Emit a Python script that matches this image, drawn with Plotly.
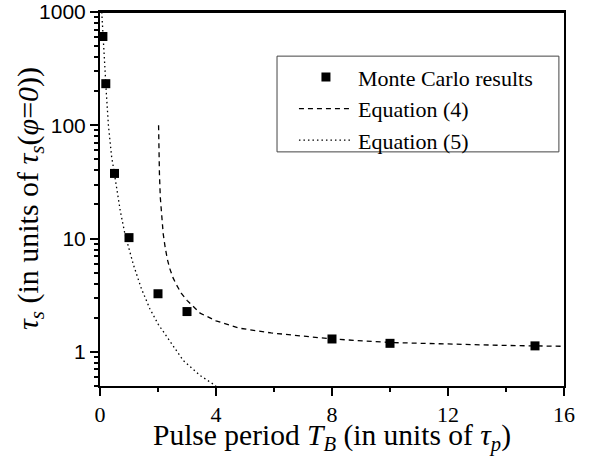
import plotly.graph_objects as go

# Monte Carlo results
mc_x = [0.1, 0.2, 0.5, 1.0, 2.0, 3.0, 8.0, 10.0, 15.0]
mc_y = [608, 233, 37.6, 10.2, 3.26, 2.27, 1.30, 1.19, 1.13]

# Equation (4) curve (dashed)
eq4_x = [2.02, 2.03, 2.05, 2.08, 2.13, 2.18, 2.24, 2.32, 2.41, 2.52, 2.64, 2.8, 3.0,
         3.45, 4.0, 4.8, 5.9, 7.0, 8.0, 10.0, 12.0, 14.0, 16.0]
eq4_y = [100, 60, 37, 23, 15, 11, 8.6, 6.6, 5.4, 4.5, 3.9, 3.3, 2.85,
         2.2, 1.88, 1.62, 1.47, 1.37, 1.30, 1.21, 1.17, 1.14, 1.12]

# Equation (5) curve (dotted)
eq5_x = [0.06, 0.08, 0.11, 0.17, 0.22, 0.29, 0.40, 0.50, 0.60, 0.70, 0.86, 1.0,
         1.15, 1.43, 1.72, 2.01, 2.3, 2.87, 3.45, 3.91, 4.0]
eq5_y = [1000, 800, 600, 280, 190, 100, 53, 37, 25, 17.5, 11, 8.3,
         5.9, 3.6, 2.4, 1.75, 1.36, 0.84, 0.62, 0.52, 0.5]

x_ticks = [0, 4, 8, 12, 16]
y_ticks = [1, 10, 100, 1000]
y_tick_text = ["1", "10", "100", "1000"]
y_minor = [0.5, 0.6, 0.7, 0.8, 0.9] + [m * d for d in (1, 10, 100) for m in range(2, 10)]

x_title = "Pulse period <i>T</i><sub><i>B</i></sub> (in units of <i>τ</i><sub><i>p</i></sub>)"
y_title = "<i>τ</i><sub><i>s</i></sub> (in units of <i>τ</i><sub><i>s</i></sub>(<i>φ</i>=<i>0</i>))"

serif = "Liberation Serif"
sans = "Liberation Sans"

fig = go.Figure()
fig.add_trace(go.Scatter(x=mc_x, y=mc_y, mode="markers", name="Monte Carlo results",
                         marker=dict(symbol="square", size=9, color="black")))
fig.add_trace(go.Scatter(x=eq4_x, y=eq4_y, mode="lines", name="Equation (4)",
                         line=dict(color="black", width=1.3, dash="5px,4px")))
fig.add_trace(go.Scatter(x=eq5_x, y=eq5_y, mode="lines", name="Equation (5)",
                         line=dict(color="black", width=1.3, dash="1.5px,3px")))

tick_common = dict(ticks="outside", ticklen=8, tickwidth=1.5, tickcolor="black",
                   showline=True, linecolor="black", linewidth=2,
                   showgrid=False, zeroline=False, automargin=False)

fig.update_layout(
    width=603, height=468,
    margin=dict(l=100, r=39, t=12, b=82),
    plot_bgcolor="white", paper_bgcolor="white",
    font=dict(family=serif, color="black"),
    showlegend=True,
    legend=dict(x=0.418, y=0.882, xanchor="left", yanchor="top",
                bgcolor="rgba(0,0,0,0)", borderwidth=0,
                font=dict(family=serif, size=22, color="black"),
                itemwidth=54, tracegroupgap=0),
    shapes=[
        dict(type="rect", xref="paper", yref="paper", x0=0.3815, x1=0.989, y0=0.626, y1=0.882,
             line=dict(color="#444", width=1), fillcolor="white", layer="below"),
        dict(type="line", xref="paper", yref="paper", x0=0, x1=1, y0=1, y1=1,
             line=dict(color="black", width=2), layer="above"),
    ],
    xaxis=dict(range=[0, 16], tickvals=x_ticks, mirror=True,
               tickfont=dict(family=serif, size=22, color="black"),
               minor=dict(dtick=2, ticks="outside", ticklen=4, tickwidth=1.5, tickcolor="black", showgrid=False),
               **tick_common),
    xaxis2=dict(range=[0, 16], tickvals=x_ticks, overlaying="x", matches="x", anchor="y", side="top",
                showticklabels=False,
                minor=dict(dtick=2, ticks="outside", ticklen=4, tickwidth=1.5, tickcolor="black", showgrid=False),
                **tick_common),
    yaxis=dict(type="log", range=[-0.30103, 3], tickvals=y_ticks, ticktext=y_tick_text, mirror=True,
               tickfont=dict(family=sans, size=21, color="black"),
               minor=dict(tickvals=y_minor, ticks="outside", ticklen=4, tickwidth=1.5, tickcolor="black", showgrid=False),
               **tick_common),
    annotations=[
        dict(text=x_title, xref="paper", yref="paper", x=0.5, y=0, xanchor="center", yanchor="middle",
             yshift=-51, showarrow=False, font=dict(family=serif, size=29.5, color="black")),
        dict(text=y_title, xref="paper", yref="paper", x=0, y=0.5, xanchor="center", yanchor="middle",
             xshift=-70, yshift=0, textangle=-90, showarrow=False,
             font=dict(family=serif, size=30, color="black")),
    ],
)

fig.write_html("out.html", config={"displayModeBar": False},
               post_script="document.body.style.margin='0';document.body.style.overflow='hidden';")
